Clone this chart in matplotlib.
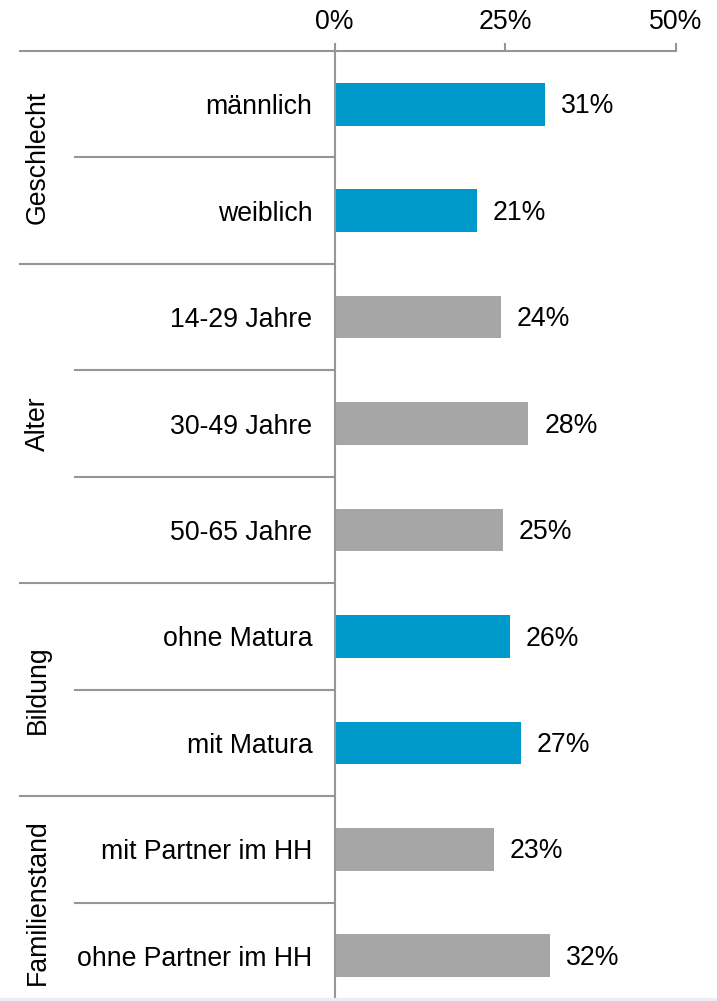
import matplotlib.pyplot as plt
from matplotlib.patches import Rectangle

plt.rcParams['font.family'] = ['Liberation Sans', 'DejaVu Sans']

# data
categories = ["männlich", "weiblich",
              "14-29 Jahre", "30-49 Jahre", "50-65 Jahre",
              "ohne Matura", "mit Matura",
              "mit Partner im HH", "ohne Partner im HH"]
values = [30.8, 20.9, 24.4, 28.4, 24.6, 25.7, 27.3, 23.4, 31.6]
value_labels = ["31%", "21%", "24%", "28%", "25%", "26%", "27%", "23%", "32%"]
groups = ["Geschlecht", "Alter", "Bildung", "Familienstand"]
group_sizes = [2, 3, 2, 2]
group_colors = ["#0099CC", "#A6A6A6", "#0099CC", "#A6A6A6"]
xticks = [0, 25, 50]
xtick_labels = ["0%", "25%", "50%"]

line_col = "#969696"
fs = 19.2

W, H = 717, 1001
fig = plt.figure(figsize=(W / 100, H / 100), dpi=100)
# axes in pixel geometry: x 334.5..676, y 51..1009
ax = fig.add_axes([334.5 / W, (H - 1009) / H, (676 - 334.5) / W, (1009 - 51) / H])

colors = []
for c, n in zip(group_colors, group_sizes):
    colors += [c] * n

ypos = [i + 0.5 for i in range(len(categories))]
ax.barh(ypos, values, height=0.4, color=colors, zorder=2)

for y, v, lab in zip(ypos, values, value_labels):
    ax.text(v + 2.3, y + 0.02, lab, ha="left", va="center", fontsize=fs, color="black")

ax.set_xlim(0, 50)
ax.set_ylim(len(categories), 0)

ax.xaxis.tick_top()
ax.set_xticks(xticks)
ax.set_xticklabels(xtick_labels, fontsize=fs)
ax.tick_params(axis="x", direction="out", length=5.8, width=1.5, color=line_col, pad=5.5)

ax.set_yticks(ypos)
ax.set_yticklabels(categories, fontsize=fs)
ax.tick_params(axis="y", length=0, pad=16)

for s in ["right", "bottom"]:
    ax.spines[s].set_visible(False)
for s in ["top", "left"]:
    ax.spines[s].set_color(line_col)
    ax.spines[s].set_linewidth(1.5)

# separators left of the axis
trans = ax.get_yaxis_transform()
x_outer = (20 - 334.5) / (676 - 334.5)
x_inner = (75 - 334.5) / (676 - 334.5)
x_group = (38 - 334.5) / (676 - 334.5)

ax.plot([x_outer, 0], [0, 0], color=line_col, lw=1.5, transform=trans, clip_on=False)
start = 0
for g, n in zip(groups, group_sizes):
    for k in range(1, n):
        ax.plot([x_inner, 0], [start + k, start + k], color=line_col, lw=1.5,
                transform=trans, clip_on=False)
    end = start + n
    if end < len(categories):
        ax.plot([x_outer, 0], [end, end], color=line_col, lw=1.5,
                transform=trans, clip_on=False)
    ax.text(x_group, start + n / 2, g, rotation=90, ha="center", va="center",
            fontsize=fs, transform=trans)
    start = end

# light strip at the bottom edge
fig.patches.append(Rectangle((0, 0), 1, 3 / H, transform=fig.transFigure,
                             color="#EAECF6", zorder=0))

fig.savefig("out.png", dpi=100)
